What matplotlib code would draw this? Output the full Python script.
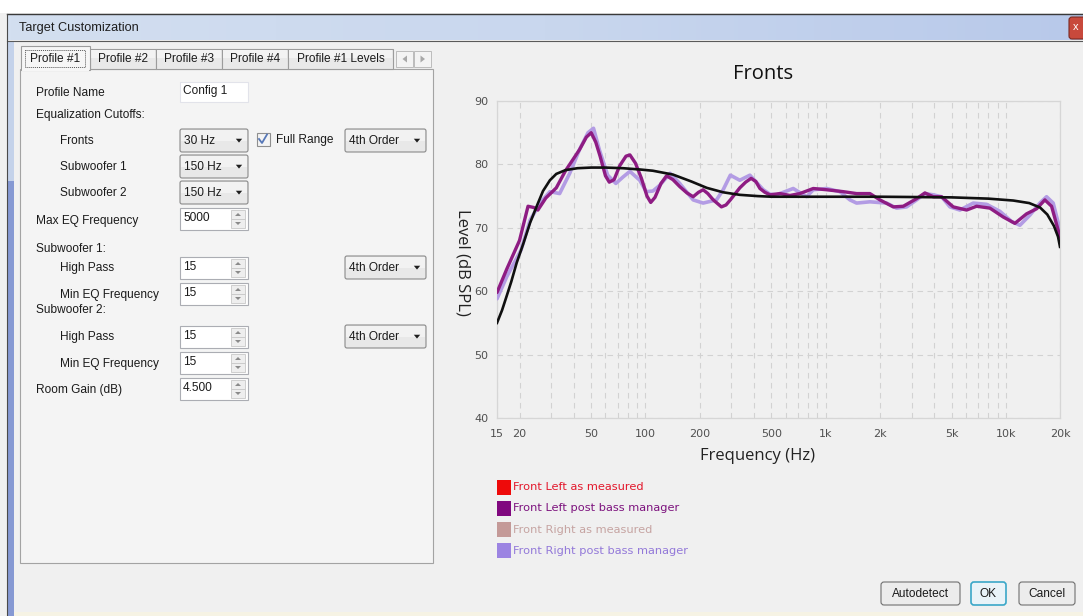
import numpy as np
import matplotlib
matplotlib.use("Agg")
import matplotlib.pyplot as plt
from matplotlib.patches import Rectangle, FancyBboxPatch, Polygon
from matplotlib.ticker import FixedLocator, NullFormatter, LogLocator
from matplotlib.colors import LinearSegmentedColormap

# ---------------- data ----------------
tick_freqs = [15, 20, 50, 100, 200, 500, 1000, 2000, 5000, 10000, 20000]
tick_labels = ["15", "20", "50", "100", "200", "500", "1k", "2k", "5k", "10k", "20k"]
y_ticks = [40, 50, 60, 70, 80, 90]

fl_post_f = [15, 17, 20, 22.3, 24, 25.3, 28, 32, 36, 43, 47, 50, 53, 56, 60, 63, 67, 72, 78, 82,
             88, 95, 102, 107, 113, 122, 131, 142, 155, 170, 184, 197, 209, 222, 238, 264, 280,
             296, 334, 360, 386, 410, 432, 460, 491, 558, 634, 720, 854, 1013, 1254, 1486, 1762,
             2003, 2374, 2699, 3200, 3558, 3958, 4402, 5110, 6062, 6888, 8166, 9685, 11238,
             13041, 14827, 16485, 17955, 19545, 20000]
fl_post_v = [59.8, 63.5, 68.0, 73.4, 73.2, 72.8, 74.7, 76.3, 79.0, 82.3, 84.3, 85.0, 83.5, 81.3,
             78.2, 77.2, 77.6, 79.8, 81.3, 81.5, 80.2, 77.8, 75.0, 74.0, 74.8, 77.0, 78.2, 77.6,
             76.5, 75.5, 74.9, 75.6, 76.0, 75.4, 74.4, 73.3, 73.6, 74.4, 76.3, 77.2, 77.8, 77.3,
             76.2, 75.6, 75.2, 75.4, 75.1, 75.4, 76.2, 76.0, 75.7, 75.4, 75.4, 74.4, 73.3, 73.4,
             74.6, 75.5, 74.9, 74.9, 73.3, 72.8, 73.4, 73.1, 71.7, 70.7, 72.2, 73.0, 74.4, 73.4,
             69.6, 68.5]

fr_post_f = [15, 17, 20.4, 22.9, 26, 29.5, 33.4, 38, 43, 48, 51.5, 55.5, 61.7, 68.5, 75, 82, 93,
             101, 110, 120, 137, 155, 184, 209, 248, 270, 296, 334, 380, 451, 491, 535, 661, 785,
             854, 1013, 1201, 1365, 1486, 1762, 2181, 2478, 2816, 3200, 3558, 3958, 4402, 4899,
             5565, 6600, 7827, 9276, 10767, 11980, 13611, 15464, 16845, 18330, 19545, 20000]
fr_post_v = [58.8, 62.3, 66.5, 71.2, 73.9, 75.7, 75.4, 78.6, 82.3, 85.0, 85.7, 82.3, 78.3, 77.0,
             78.0, 78.9, 77.5, 75.7, 75.8, 76.7, 78.6, 77.0, 74.4, 73.9, 74.4, 76.0, 78.3, 77.5,
             78.3, 76.0, 75.3, 75.2, 76.2, 74.9, 76.0, 76.2, 75.7, 74.4, 73.9, 74.1, 73.9, 73.1,
             73.3, 74.4, 75.4, 75.2, 74.9, 73.3, 72.8, 73.9, 73.7, 72.6, 71.0, 70.4, 72.0, 73.9,
             74.9, 73.9, 70.8, 69.5]

target_f = [15, 16, 17, 18, 19.3, 21, 22.9, 25, 27, 29.5, 32, 36, 42, 50, 60, 75, 93, 110, 142,
            180, 219, 270, 334, 420, 500, 1000, 2000, 5000, 8000, 11000, 13500, 15500, 17000,
            18500, 19500, 20000]
target_v = [55.0, 57.0, 59.3, 61.5, 64.5, 67.5, 70.8, 73.5, 75.8, 77.5, 78.5, 79.1, 79.4, 79.5,
            79.5, 79.4, 79.2, 79.0, 78.4, 77.3, 76.3, 75.6, 75.2, 75.0, 74.9, 74.9, 74.9, 74.8,
            74.6, 74.3, 73.9, 73.2, 72.1, 70.3, 68.6, 67.0]

legend_labels = ["Front Left as measured", "Front Left post bass manager",
                 "Front Right as measured", "Front Right post bass manager"]
legend_colors = ["#ee0a0a", "#80087f", "#c49a98", "#9c84e2"]
legend_text_colors = ["#e3182c", "#7d137e", "#c6a4a2", "#9379d9"]

# ---------------- figure ----------------
W, H = 1083, 616
fig = plt.figure(figsize=(W / 100, H / 100), dpi=100)
fig.patch.set_facecolor("#f0f0f0")

ui = fig.add_axes([0, 0, 1, 1])
ui.set_xlim(0, W)
ui.set_ylim(H, 0)
ui.axis("off")

UIF = "Liberation Sans"
FS = 8.6


def rect(x, y, w, h, fc, ec="none", lw=1.0, z=1, ls="-"):
    ui.add_patch(Rectangle((x, y), w, h, facecolor=fc, edgecolor=ec, linewidth=lw, zorder=z, linestyle=ls))


def rrect(x, y, w, h, fc, ec, lw=0.8, z=2, r=2):
    ui.add_patch(FancyBboxPatch((x, y), w, h, boxstyle=f"round,pad=0,rounding_size={r}",
                                facecolor=fc, edgecolor=ec, linewidth=lw, zorder=z))


def txt(x, y, s, size=FS, color="#1b1b1b", ha="left", z=5, family=UIF):
    ui.text(x, y, s, fontsize=size, color=color, ha=ha, va="center", zorder=z, family=family)


def tri_down(cx, cy, s=3.2, color="#1e1e1e"):
    ui.add_patch(Polygon([[cx - s, cy - s * 0.55], [cx + s, cy - s * 0.55], [cx, cy + s * 0.65]],
                         closed=True, facecolor=color, edgecolor="none", zorder=6))


def combo(x, y, w, h, label):
    rrect(x, y, w, h, "#e8e8e8", "#8a8a8a", lw=0.8)
    rect(x + 1, y + 1, w - 2, h / 2 - 1, "#f2f2f2", z=3)
    txt(x + 4, y + h / 2 + 0.5, label)
    tri_down(x + w - 9, y + h / 2)


def spin(x, y, w, h, label):
    rect(x, y, w, h, "white", "#abadb3", lw=0.8, z=2)
    txt(x + 3, y + h / 2 - 1, label)
    bx = x + w - 17
    rect(bx, y + 2, 14, h / 2 - 2, "#eeeeee", "#c8c8c8", lw=0.6, z=3)
    rect(bx, y + h / 2, 14, h / 2 - 2, "#eeeeee", "#c8c8c8", lw=0.6, z=3)
    ui.add_patch(Polygon([[bx + 4, y + h / 2 - 3], [bx + 10, y + h / 2 - 3], [bx + 7, y + 5]],
                         facecolor="#8a8a8a", edgecolor="none", zorder=4))
    ui.add_patch(Polygon([[bx + 4, y + h / 2 + 3], [bx + 10, y + h / 2 + 3], [bx + 7, y + h - 5]],
                         facecolor="#8a8a8a", edgecolor="none", zorder=4))


# window top / title bar
rect(0, 0, W, 13, "#ffffff", z=0)
grad = np.linspace(0, 1, 256).reshape(1, -1)
cm = LinearSegmentedColormap.from_list("tb", ["#d3dff0", "#c9d7ee", "#b8c9ea"])
ui.imshow(grad, extent=(7, W, 40, 14), aspect="auto", cmap=cm, zorder=1)
ui.plot([7, W], [13.5, 13.5], color="#3a3a3a", lw=1.0, zorder=2)
ui.plot([7, W], [40.5, 40.5], color="#5a5a5a", lw=0.8, zorder=2)
ui.plot([7, 7], [13.5, H], color="#4a4a4a", lw=0.8, zorder=2)
txt(19, 28, "Target Customization", size=9.2, color="#1e1e1e")
# close button
rrect(1069, 17, 18, 22, "#c8493c", "#7a2a22", lw=0.8, z=3, r=3)
txt(1076, 27.5, "x", size=8, color="white", ha="center")
# left frame strip
rect(7.5, 41, 6.5, 140, "#c4d2ea", z=1)
rect(7.5, 181, 6.5, H - 181, "#8699d3", z=1)

# tab panel
rect(19.5, 68.5, 413.5, 494.5, "#f4f4f4", "#a3a3a3", lw=0.8, z=1)
tabs = [("Profile #2", 90, 156), ("Profile #3", 156, 222), ("Profile #4", 222, 288),
        ("Profile #1 Levels", 288, 393)]
for lab, x0, x1 in tabs:
    rect(x0, 49, x1 - x0, 19.5, "#e9e9e9", "#9c9c9c", lw=0.8, z=2)
    rect(x0 + 1, 50, x1 - x0 - 2, 8, "#f3f3f3", z=3)
    txt((x0 + x1) / 2, 59.5, lab, ha="center")
# active tab
rect(21, 45.5, 69, 24, "#f6f6f6", "#9c9c9c", lw=0.8, z=4)
rect(22, 67, 67, 4, "#f6f6f6", z=4)
rect(25, 50, 60, 17, "none", "#555555", lw=0.7, z=5, ls=(0, (1, 1)))
txt(55, 58.5, "Profile #1", ha="center", z=6)
# scroll arrows
for x0 in (396, 414):
    rect(x0, 51, 17, 16, "#f3f3f3", "#bcbcbc", lw=0.7, z=2)
ui.add_patch(Polygon([[407, 55.5], [407, 62.5], [402.5, 59]], facecolor="#a8a8a8", edgecolor="none", zorder=3))
ui.add_patch(Polygon([[420.5, 55.5], [420.5, 62.5], [425, 59]], facecolor="#a8a8a8", edgecolor="none", zorder=3))

# form
txt(36, 93, "Profile Name")
rect(180, 82, 68, 20, "white", "#e2e3ea", lw=0.8, z=2)
txt(183, 91, "Config 1")
txt(36, 115, "Equalization Cutoffs:")
txt(60, 141, "Fronts")
combo(180, 129, 68, 23, "30 Hz")
rect(256.5, 132.5, 13, 13, "#f4f4f4", "#8f8f8f", lw=0.8, z=3)
ui.plot([259, 262, 267], [139, 143, 134.5], color="#5778b8", lw=1.3, zorder=4)
txt(276, 140, "Full Range")
combo(345, 129, 81, 23, "4th Order")
txt(60, 167, "Subwoofer 1")
combo(180, 155, 68, 23, "150 Hz")
txt(60, 193, "Subwoofer 2")
combo(180, 181, 68, 23, "150 Hz")
txt(36, 221, "Max EQ Frequency")
spin(180, 208, 68, 22, "5000")
txt(36, 249, "Subwoofer 1:")
txt(60, 268, "High Pass")
spin(180, 257, 68, 22, "15")
combo(345, 256, 81, 23, "4th Order")
txt(60, 295, "Min EQ Frequency")
spin(180, 283, 68, 22, "15")
txt(36, 310, "Subwoofer 2:")
txt(60, 337, "High Pass")
spin(180, 326, 68, 22, "15")
combo(345, 325, 81, 23, "4th Order")
txt(60, 364, "Min EQ Frequency")
spin(180, 352, 68, 22, "15")
txt(36, 390, "Room Gain (dB)")
spin(180, 378, 68, 22, "4.500")

# buttons
rrect(881, 582, 79, 23, "#ececec", "#707070", lw=0.8, r=3)
txt(920.5, 594, "Autodetect", ha="center")
rrect(971, 582, 35, 23, "#e9f3f8", "#3aa7c8", lw=1.2, r=3)
txt(988.5, 594, "OK", ha="center")
rrect(1019, 582, 56, 23, "#ececec", "#707070", lw=0.8, r=3)
txt(1047, 594, "Cancel", ha="center")
rect(14, 612, W - 14, 4, "#f6f3e4", z=1)

# ---------------- chart ----------------
ax = fig.add_axes([497 / W, 1 - 418 / H, 563 / W, 317 / H])
ax.patch.set_alpha(0)
ax.set_xscale("log")
ax.set_xlim(15, 20000)
ax.set_ylim(40, 90)

ax.plot(fr_post_f, fr_post_v, color="#b39ce4", lw=2.6, solid_capstyle="round",
        solid_joinstyle="round", zorder=3)
ax.plot(fl_post_f, fl_post_v, color="#8e1c83", lw=2.4, solid_capstyle="round",
        solid_joinstyle="round", zorder=4)
ax.plot(target_f, target_v, color="#101010", lw=1.9, solid_joinstyle="round", zorder=5)

ax.xaxis.set_major_locator(FixedLocator(tick_freqs))
ax.set_xticklabels(tick_labels)
ax.xaxis.set_minor_locator(LogLocator(base=10, subs=np.arange(2, 10)))
ax.xaxis.set_minor_formatter(NullFormatter())
ax.set_yticks(y_ticks)
ax.tick_params(axis="both", which="both", length=0, labelsize=8, labelcolor="#505050", pad=6)
ax.tick_params(axis="x", pad=8)
for lab in ax.get_xticklabels() + ax.get_yticklabels():
    lab.set_family("DejaVu Sans")

ax.grid(True, which="both", axis="x", color="#d2d2d2", lw=0.8, linestyle=(0, (5, 4)))
ax.grid(True, which="major", axis="y", color="#d2d2d2", lw=0.8, linestyle=(0, (5, 4)))
for s in ax.spines.values():
    s.set_color("#d6d6d6")
    s.set_linewidth(0.9)

fig.text(763 / W, 1 - 74 / H, "Fronts", fontsize=14.5, color="#111111", ha="center", va="center",
         family="Open Sans")
fig.text(757 / W, 1 - 456 / H, "Frequency (Hz)", fontsize=12, color="#222222", ha="center",
         va="center", family="Open Sans")
fig.text(462 / W, 1 - 262 / H, "Level (dB SPL)", fontsize=12, color="#222222", ha="center",
         va="center", rotation=-90, family="Open Sans")

# legend
for i, (lab, c, tc) in enumerate(zip(legend_labels, legend_colors, legend_text_colors)):
    yc = 487 + i * 21.3
    rect(497, yc - 7.5, 14, 15, c, z=3)
    txt(513, yc, lab, size=8.2, color=tc, family="DejaVu Sans")

fig.savefig("out.png", dpi=100, facecolor=fig.get_facecolor())
